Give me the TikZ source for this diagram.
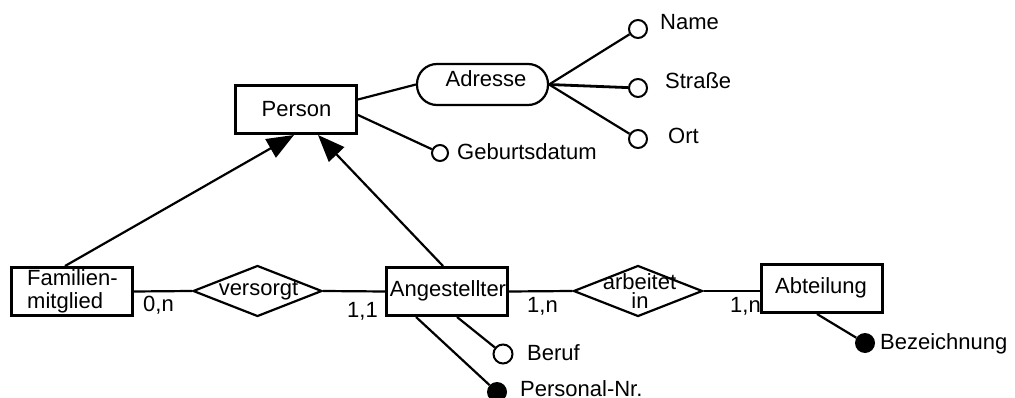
\documentclass[tikz,border=0pt]{standalone}
\usepackage{fontspec}
\setmainfont{Liberation Sans}
\usetikzlibrary{shapes.geometric,arrows.meta}
\begin{document}
\begin{tikzpicture}[x=1pt,y=-1pt,
  font=\fontsize{22}{26}\selectfont,
  entity/.style={draw, line width=3pt, minimum width=121pt, minimum height=48pt, inner sep=0pt},
  compound/.style={draw, line width=2.2pt, rounded corners=20pt, minimum width=131pt, minimum height=41pt, inner sep=0pt},
  rel/.style={draw, diamond, line width=2.2pt, inner sep=0pt, minimum width=129pt, minimum height=51pt},
  attr/.style={draw, circle, line width=2pt, minimum size=18pt, inner sep=0pt},
  keyattr/.style={fill, circle, minimum size=20pt, inner sep=0pt},
  lbl/.style={inner sep=0pt, anchor=base west},
  ctr/.style={inner sep=0pt, anchor=base},
  link/.style={line width=2.2pt},
  isa/.style={line width=2.2pt, -{Triangle[length=27pt,width=21pt]}}
]
\useasboundingbox (0,0) rectangle (1015,398);

% entities
\node[entity] (person) at (296,109.5) {};
\node[ctr] (personT) at (296.5,117) {Person};
\node[entity] (fam) at (71.5,291.5) {};
\node[lbl] (famA) at (27,285) {Familien-};
\node[lbl] (famB) at (27,308) {mitglied};
\node[entity] (ang) at (447,291.5) {};
\node[ctr] (angT) at (448,297) {Angestellter};
\node[entity] (abt) at (821.5,288.5) {};
\node[ctr] (abtT) at (821,294) {Abteilung};

% composite attribute
\node[compound] (adresse) at (482.5,84.5) {};
\node[ctr] (adresseT) at (486,87) {Adresse};

% relationships
\node[rel] (vers) at (257.5,291) {};
\node[ctr] (versT) at (258.5,295) {versorgt};
\node[rel] (arb) at (638,291) {};
\node[ctr] (arbA) at (639.5,290) {arbeitet};
\node[ctr] (arbB) at (640,308) {in};

% attributes
\node[attr] (nameC) at (638,29) {};
\node[lbl] (nameT) at (660,30) {Name};
\node[attr] (strC) at (638,88) {};
\node[lbl] (strT) at (665,89) {Straße};
\node[attr] (ortC) at (638,139) {};
\node[lbl] (ortT) at (668,144) {Ort};
\node[attr, minimum size=16pt] (gebC) at (440,153) {};
\node[lbl] (gebT) at (457,160) {Geburtsdatum};
\node[attr, minimum size=19pt] (berufC) at (503,354) {};
\node[lbl] (berufT) at (527,360) {Beruf};
\node[keyattr] (persnrK) at (497,392) {};
\node[lbl] (persnrT) at (520,396) {Personal-Nr.};
\node[keyattr] (bezK) at (865,343) {};
\node[lbl] (bezT) at (880,349) {Bezeichnung};

% cardinalities
\node[lbl] (c1) at (143,311) {0,n};
\node[lbl] (c2) at (347,317) {1,1};
\node[lbl] (c3) at (527,312) {1,n};
\node[lbl] (c4) at (730,312) {1,n};

% attribute links
\draw[link] ([yshift=10pt]person.east) -- (adresse.west);
\draw[link] ([yshift=-5.5pt]person.east) -- (gebC);
\draw[link] (adresse.east) -- (nameC);
\draw[line width=2.8pt] (adresse.east) -- (strC);
\draw[link] (adresse.east) -- (ortC);
\draw[link] ([xshift=10pt]ang.south) -- (berufC);
\draw[link] ([xshift=-31pt]ang.south) -- (persnrK);
\draw[link] ([xshift=-4.5pt]abt.south) -- (bezK);

% generalisation
\draw[isa] ([xshift=-6.5pt]fam.north) -- ([xshift=-2pt]person.south);
\draw[isa] ([xshift=-4pt]ang.north) -- ([xshift=22pt]person.south);

% relationship links
\draw[link] (fam.east) -- (vers.west);
\draw[link] (vers.east) -- (ang.west);
\draw[link] (ang.east) -- (arb.west);
\draw[link] (arb.east) -- (arb.east -| abt.west);
\end{tikzpicture}
\end{document}
